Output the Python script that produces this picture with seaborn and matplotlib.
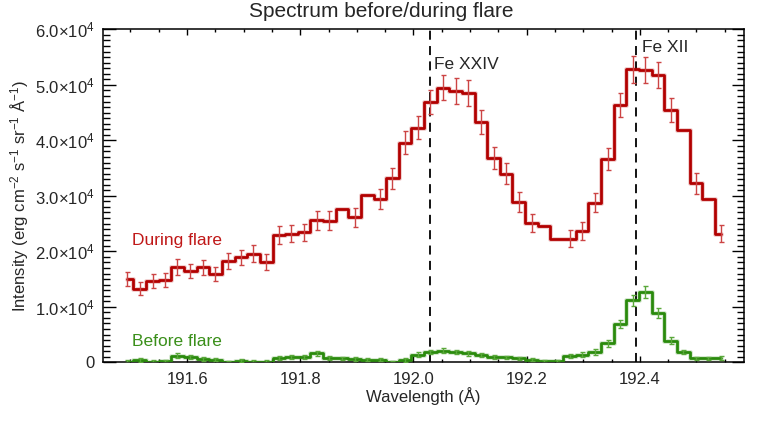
import numpy as np
import matplotlib
matplotlib.use("Agg")
import matplotlib.pyplot as plt
import seaborn as sns
from matplotlib.ticker import MultipleLocator, FuncFormatter

# wavelength grid (EIS pixels), Angstrom
wave = [191.494, 191.516, 191.539, 191.561, 191.583, 191.606, 191.628, 191.650,
        191.673, 191.695, 191.717, 191.740, 191.762, 191.784, 191.807, 191.829,
        191.851, 191.874, 191.896, 191.918, 191.941, 191.963, 191.985, 192.008,
        192.030, 192.052, 192.075, 192.097, 192.119, 192.142, 192.164, 192.186,
        192.209, 192.231, 192.253, 192.276, 192.298, 192.320, 192.343, 192.365,
        192.388, 192.410, 192.432, 192.455, 192.477, 192.499, 192.521, 192.544]

# intensity during flare (x1e4)
during = [1.50, 1.33, 1.47, 1.48, 1.72, 1.65, 1.71, 1.59, 1.83, 1.89, 1.96, 1.81,
          2.29, 2.32, 2.34, 2.56, 2.55, 2.76, 2.61, 3.01, 2.94, 3.32, 3.96, 4.23,
          4.69, 4.95, 4.89, 4.85, 4.33, 3.68, 3.40, 2.89, 2.51, 2.46, 2.23, 2.23,
          2.37, 2.88, 3.66, 4.64, 5.28, 5.27, 5.18, 4.55, 4.19, 3.23, 2.94, 2.32]
during_err = [0.13, 0.12, 0.13, 0.13, 0.14, 0.13, 0.14, 0.13, 0.14, 0.14, 0.15, 0.14,
              0.16, 0.16, 0.16, 0.17, 0.17, np.nan, 0.17, np.nan, 0.18, 0.19, 0.21, 0.21,
              0.22, 0.23, 0.23, 0.23, 0.22, 0.20, 0.19, 0.18, 0.17, np.nan, np.nan, 0.16,
              0.16, 0.18, 0.20, 0.22, 0.24, 0.24, 0.24, 0.22, np.nan, 0.19, np.nan, 0.16]

# intensity before flare (x1e4)
before = [0.01, 0.04, 0.01, 0.02, 0.12, 0.10, 0.06, 0.05, 0.00, 0.03, 0.01, 0.01,
          0.08, 0.10, 0.10, 0.16, 0.08, 0.07, 0.06, 0.05, 0.05, 0.00, 0.04, 0.14,
          0.19, 0.21, 0.19, 0.16, 0.13, 0.10, 0.09, 0.07, 0.05, 0.02, 0.02, 0.11,
          0.14, 0.19, 0.34, 0.69, 1.12, 1.27, 0.88, 0.39, 0.19, 0.07, 0.07, 0.08]
before_err = [0.03, 0.03, 0.03, 0.03, 0.04, 0.04, 0.03, 0.03, 0.03, 0.03, 0.03, 0.03,
              0.03, 0.04, 0.04, 0.04, 0.03, 0.03, 0.03, 0.03, 0.03, 0.03, 0.03, 0.04,
              0.04, 0.05, 0.04, 0.04, 0.04, 0.04, 0.03, 0.03, 0.03, 0.03, 0.03, 0.04,
              0.04, 0.05, 0.06, 0.08, 0.10, 0.11, 0.09, 0.06, 0.04, 0.03, 0.03, 0.03]

lines = {"Fe XXIV": 192.029, "Fe XII": 192.394}

scale = 1e4
red = "#b20000"
red_err = "#cc4444"
green = "#2a8a0c"
green_err = "#5aa83a"

sns.set_style("ticks")
plt.rcParams['font.family'] = ['Liberation Sans', 'DejaVu Sans']
plt.rcParams['mathtext.fontset'] = 'custom'
plt.rcParams['mathtext.rm'] = 'Liberation Sans'
plt.rcParams['mathtext.it'] = 'Liberation Sans'

fig = plt.figure(figsize=(7.63, 4.23), dpi=100)
ax = fig.add_axes([0.1354, 0.1435, 0.8396, 0.787])

w = np.array(wave)
d = np.array(during) * scale
b = np.array(before) * scale

# light halo under the lines
ax.plot(w, d, drawstyle="steps-mid", color=red, lw=3.6, alpha=0.18, zorder=2)
ax.plot(w, b, drawstyle="steps-mid", color=green, lw=3.6, alpha=0.18, zorder=2)
sns.lineplot(x=w, y=d, drawstyle="steps-mid", color=red, lw=2, ax=ax, zorder=3)
sns.lineplot(x=w, y=b, drawstyle="steps-mid", color=green, lw=2, ax=ax, zorder=3)

ax.errorbar(w, d, yerr=np.array(during_err) * scale, fmt="none", ecolor=red_err,
            elinewidth=1, capsize=1.8, capthick=1, zorder=4)
ax.errorbar(w, b, yerr=np.array(before_err) * scale, fmt="none", ecolor=green_err,
            elinewidth=1, capsize=1.8, capthick=1, zorder=4)

for name, lam in lines.items():
    ax.axvline(lam, color="black", ls=(0, (5, 3.5)), lw=1.3, zorder=1)
ax.text(192.0365, 5.37e4, "Fe XXIV", fontsize=12.5, va="center", ha="left")
ax.text(192.404, 5.68e4, "Fe XII", fontsize=12.5, va="center", ha="left")

ax.text(191.502, 2.2e4, "During flare", color="#c01818", fontsize=12.5, va="center")
ax.text(191.502, 0.38e4, "Before flare", color="#3a8f1a", fontsize=12.5, va="center")

ax.set_xlim(191.452, 192.584)
ax.set_ylim(0, 6e4)
ax.xaxis.set_major_locator(MultipleLocator(0.2))
ax.xaxis.set_minor_locator(MultipleLocator(0.05))
ax.yaxis.set_major_locator(MultipleLocator(1e4))
ax.yaxis.set_minor_locator(MultipleLocator(1e3))


def yfmt(v, pos):
    if abs(v) < 1:
        return "0"
    return r"%.1f$\times$10$^{4}$" % (v / 1e4)


ax.yaxis.set_major_formatter(FuncFormatter(yfmt))
ax.xaxis.set_major_formatter(FuncFormatter(lambda v, p: "%.1f" % v))

ax.tick_params(axis="both", which="both", direction="in", top=True, right=True,
               labelsize=12, color="black", width=1)
ax.tick_params(axis="x", which="major", length=4.5, pad=7)
ax.tick_params(axis="x", which="minor", length=2.3)
ax.tick_params(axis="y", which="major", length=9, pad=6)
ax.tick_params(axis="y", which="minor", length=5)
for s in ax.spines.values():
    s.set_linewidth(1.1)
    s.set_color("black")

ax.set_xlabel("Wavelength (Å)", fontsize=12, labelpad=0)
ax.set_ylabel(r"Intensity (erg cm$^{-2}$ s$^{-1}$ sr$^{-1}$ Å$^{-1}$)", fontsize=12,
              labelpad=3)
fig.suptitle("Spectrum before/during flare", fontsize=15, x=0.5, y=0.995)

fig.savefig("out.png", dpi=100)
